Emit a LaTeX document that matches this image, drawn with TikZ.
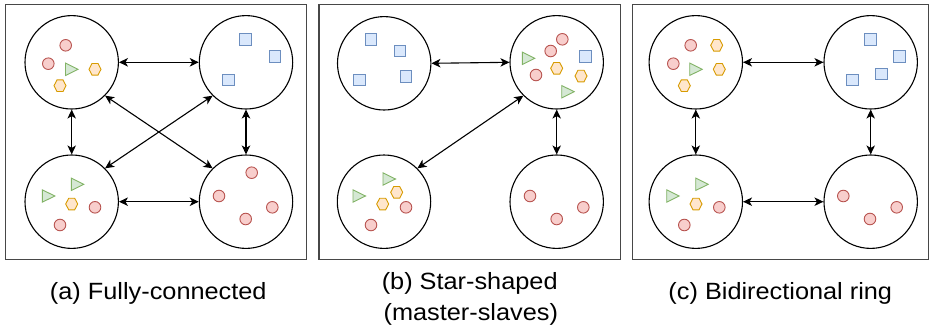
\documentclass[tikz,border=0pt]{standalone}
\usepackage{fontspec}
\usepackage{graphicx}
\setmainfont{Liberation Sans}
\usetikzlibrary{arrows.meta}

\definecolor{redfill}{HTML}{F8CECC}\definecolor{redline}{HTML}{B85450}
\definecolor{bluefill}{HTML}{DAE8FC}\definecolor{blueline}{HTML}{6C8EBF}
\definecolor{greenfill}{HTML}{D5E8D4}\definecolor{greenline}{HTML}{82B366}
\definecolor{orangefill}{HTML}{FFE6CC}\definecolor{orangeline}{HTML}{D79B00}

\tikzset{
  worker/.style={circle, draw=black, line width=1.1pt, minimum size=93.4pt, inner sep=0pt},
  link/.style={line width=1.1pt,
    {Stealth[length=9pt,width=8.5pt,inset=2.5pt]}-{Stealth[length=9pt,width=8.5pt,inset=2.5pt]}},
  panel/.style={draw=black!72, line width=1.2pt},
  caption/.style={font=\fontsize{23.5}{28}\selectfont, inner sep=0pt},
  item/.style={line width=0.9pt},
  pics/dot/.style={code={\draw[item, draw=redline, fill=redfill] (0,0) circle (5.8);}},
  pics/sq/.style={code={\draw[item, draw=blueline, fill=bluefill] (-5.8,-5.8) rectangle (5.8,5.8);}},
  pics/hex/.style={code={\draw[item, draw=orangeline, fill=orangefill]
      (-6,0) -- (-3,-5.8) -- (3,-5.8) -- (6,0) -- (3,5.8) -- (-3,5.8) -- cycle;}},
  pics/tri/.style={code={\draw[item, draw=greenline, fill=greenfill]
      (-6,-6.2) -- (6.5,0) -- (-6,6.2) -- cycle;}},
}
\newcommand{\widetext}[1]{\scalebox{1.077}[1]{#1}}

\begin{document}
\begin{tikzpicture}[x=1pt, y=-1pt]
\useasboundingbox (0,0) rectangle (930,332);

% panel frames
\draw[panel] (5.5,4.5) rectangle (306.7,259.3);
\draw[panel] (319,4.5) rectangle (620.7,259.3);
\draw[panel] (632.3,4.5) rectangle (928.5,259.3);

% (a) fully connected
\node[worker] (a1) at (71.7,62.3) {};
\node[worker] (a2) at (246,62.3) {};
\node[worker] (a3) at (71.7,201.7) {};
\node[worker] (a4) at (246,201.7) {};
\draw[link] (a1.east) -- (a2.west);
\draw[link] (a3.east) -- (a4.west);
\draw[link] (a1.south) -- (a3.north);
\draw[link] (a2.south) -- (a4.north);
\draw[link] (a1.south east) -- (a4.north west);
\draw[link] (a2.south west) -- (a3.north east);

\pic at (65.7,45.3) {dot};
\pic at (48.3,63.7) {dot};
\pic at (71.5,69.3) {tri};
\pic at (95,69.3) {hex};
\pic at (60,85.7) {hex};

\pic at (245.7,39.3) {sq};
\pic at (275,56.7) {sq};
\pic at (228.3,80) {sq};

\pic at (77.3,184.3) {tri};
\pic at (48.3,196) {tri};
\pic at (71.7,204) {hex};
\pic at (95,207.3) {dot};
\pic at (60,225) {dot};

\pic at (251.7,172.7) {dot};
\pic at (219,196) {dot};
\pic at (272.3,207.3) {dot};
\pic at (245.7,219) {dot};

% (b) star-shaped
\node[worker] (b1) at (384.2,63.3) {};
\node[worker] (b2) at (556.7,62.3) {};
\node[worker] (b3) at (384,201.7) {};
\node[worker] (b4) at (556.7,201.7) {};
\draw[link] (b1.east) -- (b2.west);
\draw[link] (b2.south) -- (b4.north);
\draw[link] (b2.south west) -- (b3.north east);

\pic at (371,39.3) {sq};
\pic at (400,51) {sq};
\pic at (359.3,80) {sq};
\pic at (406,76.7) {sq};

\pic at (562.3,39.3) {dot};
\pic at (550.7,51) {dot};
\pic at (528.3,58.3) {tri};
\pic at (585.7,56.7) {sq};
\pic at (556.7,68.3) {hex};
\pic at (536,75) {dot};
\pic at (581,76) {hex};
\pic at (567.7,91.7) {tri};

\pic at (389,179) {tri};
\pic at (359,196) {tri};
\pic at (396.7,192.3) {hex};
\pic at (382.7,204) {hex};
\pic at (406,207.3) {dot};
\pic at (371,225) {dot};

\pic at (530,196) {dot};
\pic at (583.3,207.3) {dot};
\pic at (556.7,219) {dot};

% (c) bidirectional ring
\node[worker] (c1) at (695.8,62.3) {};
\node[worker] (c2) at (870.7,62.3) {};
\node[worker] (c3) at (695.8,201.7) {};
\node[worker] (c4) at (870.7,201.7) {};
\draw[link] (c1.east) -- (c2.west);
\draw[link] (c3.east) -- (c4.west);
\draw[link] (c1.south) -- (c3.north);
\draw[link] (c2.south) -- (c4.north);

\pic at (690.7,45.3) {dot};
\pic at (716.7,45.3) {hex};
\pic at (673.3,63.7) {dot};
\pic at (695.7,69.3) {tri};
\pic at (719.3,69.3) {hex};
\pic at (684.3,85.7) {hex};

\pic at (870.7,39.3) {sq};
\pic at (899.3,56.7) {sq};
\pic at (881.7,74) {sq};
\pic at (852.7,80) {sq};

\pic at (701.7,184.3) {tri};
\pic at (672.7,196) {tri};
\pic at (696,204) {hex};
\pic at (719.3,207.3) {dot};
\pic at (684.3,225) {dot};

\pic at (843.3,196) {dot};
\pic at (896.7,207.3) {dot};
\pic at (870,219) {dot};

% captions
\node[caption] (capa) at (158.3,293) {\widetext{(a) Fully-connected}};
\node[caption] (capb1) at (469.7,283) {\widetext{(b) Star-shaped}};
\node[caption] (capb2) at (470.8,314.5) {\widetext{(master-slaves)}};
\node[caption] (capc) at (780.3,293) {\widetext{(c) Bidirectional ring}};
\end{tikzpicture}
\end{document}
